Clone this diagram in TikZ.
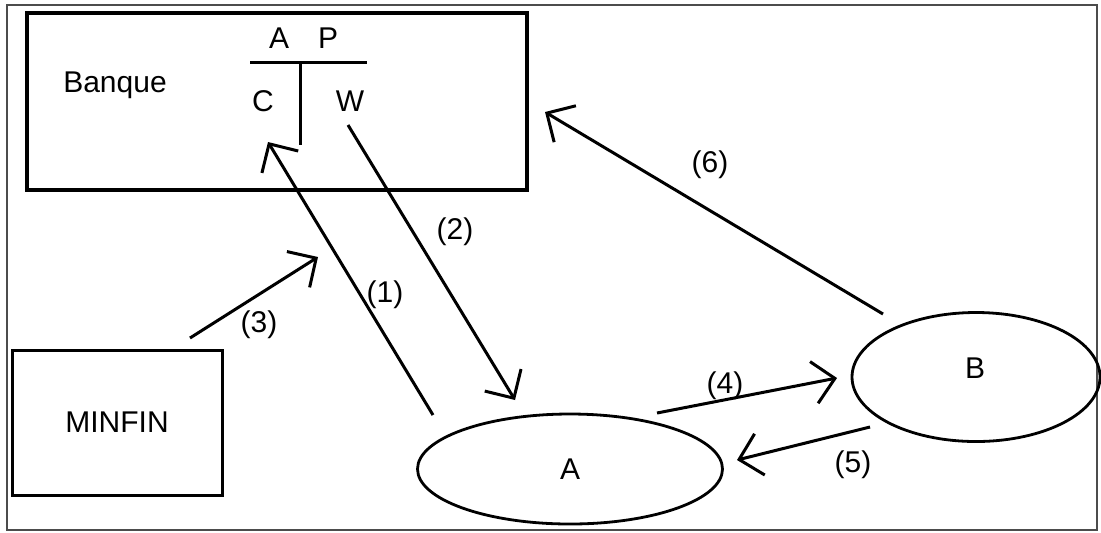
\documentclass[tikz,border=0pt]{standalone}
\usepackage{fontspec}
\setmainfont{Liberation Sans}
\usetikzlibrary{arrows.meta,shapes.geometric}
\tikzset{
  box/.style={draw,rectangle,line width=1.5pt,inner sep=0pt},
  party/.style={draw,ellipse,line width=1.4pt,inner sep=0pt},
  flow/.style={-{Straight Barb[angle=90:15pt]},line width=1.5pt},
  lbl/.style={font=\fontsize{15}{17}\selectfont,inner sep=0pt}
}

\begin{document}
\begin{tikzpicture}[x=0.5pt,y=-0.5pt,lbl]
  \useasboundingbox (0,0) rectangle (1101,532);
  \draw[line width=0.9pt,black!70] (7,5) rectangle (1097,530);
  \node[box,line width=2pt,minimum width=250pt,minimum height=88.5pt] (banque) at (277,101.5) {};
  \node (banquetxt) at (115,85) {Banque};
  \node[box,minimum width=105pt,minimum height=72.5pt] (minfin) at (117,422.5) {MINFIN};
  \node[party,minimum width=152.5pt,minimum height=55pt] (a) at (570,469) {A};
  \node[party,minimum width=124pt,minimum height=64.5pt] (b) at (976,377) {};
  \node (btxt) at (975,368) {B};
  % compte en T
  \coordinate (tl) at (250,62);
  \coordinate (tr) at (367,62);
  \coordinate (tm) at (300,62);
  \coordinate (tb) at (300,145);
  \draw[line width=1.5pt] (tl) -- (tr);
  \draw[line width=1.5pt] (tm) -- (tb);
  \node (actif) at (279,38) {A};
  \node (passif) at (328,38) {P};
  \node (credit) at (263,101) {C};
  \node (debit) at (350,101) {W};
  % flux
  \coordinate (f1s) at (433,415);
  \coordinate (f1t) at (268,142);
  \coordinate (f2s) at (348,125);
  \coordinate (f2t) at (515,400);
  \coordinate (f3s) at (190,338);
  \coordinate (f3t) at (318,257);
  \coordinate (f4s) at (657,413);
  \coordinate (f4t) at (837,378);
  \coordinate (f5s) at (870,427);
  \coordinate (f5t) at (737,460);
  \coordinate (f6s) at (883,314);
  \coordinate (f6t) at (545,112);
  \draw[flow] (f1s) -- (f1t);
  \draw[flow] (f2s) -- (f2t);
  \draw[flow] (f3s) -- (f3t);
  \draw[flow] (f4s) -- (f4t);
  \draw[flow] (f5s) -- (f5t);
  \draw[flow] (f6s) -- (f6t);
  \node (l1) at (385,295) {(1)};
  \node (l2) at (455,232) {(2)};
  \node (l3) at (259,325) {(3)};
  \node (l4) at (725,386) {(4)};
  \node (l5) at (853,465) {(5)};
  \node (l6) at (710,165) {(6)};
\end{tikzpicture}
\end{document}
